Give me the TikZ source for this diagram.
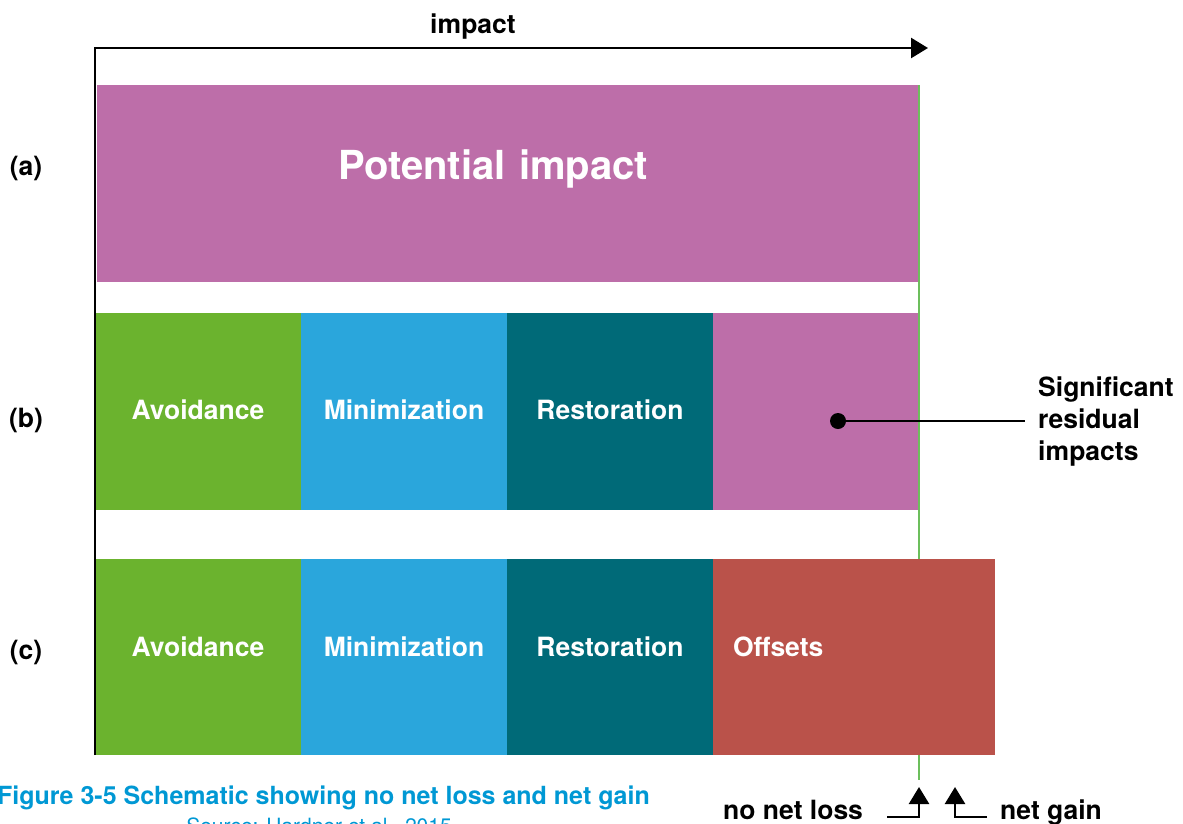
\documentclass[tikz,border=0pt]{standalone}
\usepackage{fontspec}
\setmainfont{TeX Gyre Heros}
\usetikzlibrary{positioning,arrows.meta}
\tikzset{>={Triangle[length=17pt,width=20pt]}}

\definecolor{potpurple}{HTML}{BD6EA9}
\definecolor{avgreen}{HTML}{6BB32E}
\definecolor{minblue}{HTML}{2AA6DC}
\definecolor{resteal}{HTML}{006A78}
\definecolor{offred}{HTML}{BA524A}
\definecolor{nnlgreen}{HTML}{6CBF5C}
\definecolor{capblue}{HTML}{0098D4}

\begin{document}
\begin{tikzpicture}[x=1pt, y=-1pt,
  seg/.style={minimum width=206pt, minimum height=197pt, inner sep=0pt, outer sep=0pt,
    text=white, text height=19pt, text depth=3pt, font=\bfseries\fontsize{26.5}{30}\selectfont},
  rowc/.style={minimum height=196pt, text depth=21pt},
  lab/.style={font=\bfseries\fontsize{26.5}{30}\selectfont},
  ax/.style={line width=2.5pt}]
\useasboundingbox (0,0) rectangle (1183,823);

% no net loss line, behind the bars
\coordinate (nnltop) at (919,85);
\coordinate (nnlbot) at (919,780);
\draw[nnlgreen, line width=2.5pt] (nnltop) -- (nnlbot);

% (a)
\node[seg, fill=potpurple, minimum width=821pt, anchor=north west, text height=29pt, text depth=38pt,
  inner xsep=241pt, text width=339pt, align=left,
  font=\bfseries\fontsize{40}{46}\selectfont] (pot) at (97,85) {Potential impact};
% (b)
\node[seg, fill=avgreen, anchor=north west] (avb) at (95,313) {Avoidance};
\node[seg, fill=minblue, right=0pt of avb] (minb) {Minimization};
\node[seg, fill=resteal, right=0pt of minb] (resb) {Restoration};
\node[seg, fill=potpurple, right=0pt of resb, minimum width=205pt] (resid) {};
% (c)
\node[seg, rowc, fill=avgreen, anchor=north west] (avc) at (95,559) {Avoidance};
\node[seg, rowc, fill=minblue, right=0pt of avc] (minc) {Minimization};
\node[seg, rowc, fill=resteal, right=0pt of minc] (resc) {Restoration};
\node[seg, rowc, fill=offred, right=0pt of resc, text width=242pt,
  inner xsep=20pt, align=left] (off) {Offsets};

\node[lab] (la) at (26,168) {(a)};
\node[lab] (lb) at (26,420) {(b)};
\node[lab] (lc) at (26,652) {(c)};

% impact axis
\coordinate (origin) at (95,755);
\coordinate (axend) at (928,48);
\draw[ax,->] (origin) |- (axend);
\node[lab, anchor=base, inner sep=0pt] (imp) at (473,33) {impact};

% residual impacts callout
\node[circle, fill=black, minimum size=16pt, inner sep=0pt] (dot) at (838,421) {};
\node[lab, anchor=west, align=left, inner sep=0pt,
  font=\bfseries\fontsize{26.5}{32}\selectfont] (restxt) at (1038,422) {Significant\\residual\\impacts};
\draw[line width=1.2pt, shorten >=13pt] (dot.center) -- (restxt.west |- dot);

% no net loss / net gain
\node[lab, anchor=base west, inner sep=0pt] (nnl) at (723,819) {no net loss};
\node[lab, anchor=base west, inner sep=0pt] (ng) at (1000,819) {net gain};
\coordinate (nnlstart) at (887,817);
\coordinate (nnltip) at (919,787);
\coordinate (ngstart) at (987,817);
\coordinate (ngtip) at (955,787);
\draw[ax,->] (nnlstart) -| (nnltip);
\draw[ax,->] (ngstart) -| (ngtip);

% caption
\node[font=\bfseries\fontsize{25}{28}\selectfont, text=capblue, anchor=base east, inner sep=0pt]
  (cap) at (650,804) {Figure 3-5 Schematic showing no net loss and net gain};
\node[font=\fontsize{21}{24}\selectfont, text=capblue, anchor=north, inner sep=0pt]
  (src) at (319,818) {Source: Hardner et al., 2015};
\end{tikzpicture}
\end{document}
